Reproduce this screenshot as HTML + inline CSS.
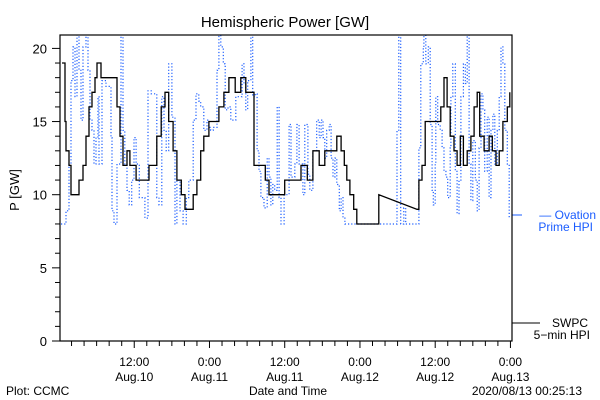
<!DOCTYPE html>
<html><head><meta charset="utf-8"><style>
html,body{margin:0;padding:0;background:#fff}
svg{display:block}
text{font-family:"Liberation Sans",sans-serif;fill:#000}
</style></head><body>
<svg id="chart" width="600" height="400">
<text x="285" y="27" font-size="15" text-anchor="middle">Hemispheric Power [GW]</text>
<text x="0" y="0" font-size="13" text-anchor="middle" transform="translate(19,190) rotate(-90)">P [GW]</text>
<text x="288" y="395" font-size="12" text-anchor="middle">Date and Time</text>
<text x="6" y="395" font-size="12">Plot: CCMC</text>
<text x="582" y="395" font-size="12" text-anchor="end">2020/08/13 00:25:13</text>
<g id="legend">
<line x1="512" y1="215" x2="522" y2="215" stroke="#1a5cff" stroke-width="1"/>
<text x="596" y="219" font-size="12" text-anchor="end" style="fill:#1a5cff">— Ovation</text>
<text x="593" y="231" font-size="12" text-anchor="end" style="fill:#1a5cff">Prime HPI</text>
<line x1="512" y1="323" x2="540" y2="323" stroke="#000" stroke-width="1"/>
<text x="588" y="327" font-size="12" text-anchor="end">SWPC</text>
<text x="590" y="339" font-size="12" text-anchor="end">5−min HPI</text>
</g>
</svg>
<script>
const blackTimes=[0.48,0.96,1.12,1.6,1.91,2.71,3.19,3.83,4.31,4.78,5.26,5.74,6.06,6.7,7.97,8.77,9.25,9.73,10.2,10.85,11.3,12.3,13.6,14.35,15.15,15.6,16.3,16.9,17.5,18.2,18.8,19.5,20.1,20.7,21.4,22.0,22.6,23.1,23.9,24.7,25.5,26.3,27.1,28.1,29.0,29.8,30.6,31.1,32.2,32.9,33.5,34.4,35.4,36.0,36.7,37.6,38.6,39.6,40.5,41.5,42.4,43.4,44.3,45.0,45.5,45.9,46.4,47.0,47.5,49.4,50.9,51.0,57.1,57.4,57.9,58.4,59.3,60.3,60.9,61.4,61.9,62.4,63.0,63.5,64.0,64.5,65.1,65.7,66.2,66.7,67.1,67.8,68.6,69.1,69.7,70.2,70.8,71.5,71.9];
const blackValues=[19,15,13,12,10,10,11,12,14,16,17,18,19,18,18,18,16,14,12,13,12,11,11,12,12,14,16,17,15,13,11,10,9,9,10,11,13,14,15,15,16,17,18,17,18,17,17,12,12,11,10,10,10,11,11,11,12,11,13,12,13,13,14,13,12,11,10,9,8,8,8,10,9,11,12,15,15,15,16,18,16,14,13,12,14,12,13,14,16,17,14,13,14,13,12,13,15,16,17];
const blueTimes=[0.32,0.8,1.12,1.6,1.91,2.23,2.55,2.87,3.19,3.51,3.83,4.31,4.63,4.94,5.26,5.58,5.9,6.22,6.38,6.86,7.5,7.97,8.29,8.45,8.77,9.25,9.89,10.2,10.5,10.85,11.2,11.6,11.96,12.3,12.8,13.2,13.7,14.2,14.7,15.15,15.6,15.95,16.4,16.75,17.1,17.5,18.0,18.5,18.8,19.3,19.8,20.3,20.7,21.4,21.85,22.3,22.6,23.1,23.6,23.9,24.2,24.6,25.2,25.5,25.8,26.2,26.5,26.95,27.4,27.9,28.2,28.7,29.2,29.5,29.8,30.1,30.6,30.9,31.3,31.6,31.9,32.2,32.7,33.2,33.5,33.8,34.1,34.4,34.8,35.1,35.4,35.9,36.7,37.0,37.6,37.95,38.3,38.9,39.2,39.7,40.0,40.5,41.1,41.5,41.8,42.1,42.4,42.7,43.1,43.4,43.7,44.0,44.3,44.7,45.0,45.3,45.6,49.8,50.4,53.9,54.2,54.5,55.0,55.3,57.1,57.4,57.7,58.1,58.2,58.5,58.9,59.2,59.5,59.7,60.0,60.1,60.4,60.8,61.1,61.4,61.7,62.0,62.4,62.5,62.8,63.2,63.5,63.8,64.1,64.5,64.8,65.1,65.4,65.7,66.0,66.4,66.7,67.0,67.3,67.6,67.9,68.3,68.6,68.9,69.2,69.5,69.9,70.2,70.5,70.8,71.1,71.5,71.8];
const blueValues=[8.0,8.0,8.9,12.1,17.8,20.1,16.7,21,18.5,15.1,20.1,21,18.5,15.1,14.4,12.1,13.9,16.7,12.1,17.8,17.4,17.4,13.9,8.9,8.0,12.1,21,14.4,12.1,10.3,9.3,11.0,13.9,12.1,9.8,9.8,8.4,17.1,16.9,16.9,9.8,9.3,16.7,14.4,13.0,18.95,15.3,8.0,11.0,8.9,8.0,9.8,11.0,15.1,16.9,16.4,16.0,14.4,15.1,14.6,14.4,14.6,18.5,21,20.1,18.95,15.8,16.0,15.1,15.1,16.7,16.7,18.95,17.6,15.8,17.8,21,16.7,16.9,13.0,11.6,9.8,9.1,12.5,11.2,9.3,10.7,10.3,16.0,9.8,8.0,10.0,14.8,11.2,12.1,14.8,12.1,10.0,14.8,11.4,10.3,13.0,15.1,13.9,15.1,13.9,12.5,14.4,14.8,12.5,11.2,12.5,10.7,8.9,9.8,8.4,8.0,8.0,8.0,14.4,21,8.0,9.1,8.0,8.0,13.2,18.95,20.1,21,18.95,20.1,14.8,10.3,9.3,12.1,16.7,14.8,14.4,13.2,11.6,11.2,9.8,13.2,16.7,18.95,11.6,8.7,11.0,16.7,18.95,17.6,21,12.1,9.6,13.7,11.0,8.9,13.2,16.9,15.8,11.6,15.3,9.8,14.4,15.5,12.1,14.4,16.7,20.1,18.95,14.4,12.1,8.4];
const yTickValues=[0,5,10,15,20];
const xTickHours=[12,24,36,48,60,72];
const xTickTimes=["12:00","0:00","12:00","0:00","12:00","0:00"];
const xTickDates=["Aug.10","Aug.11","Aug.11","Aug.12","Aug.12","Aug.13"];

const NS="http://www.w3.org/2000/svg";
const svg=document.getElementById('chart');
const L=60,R=512,T=35,B=341;
const xs=h=>59+6.27*h;
const ys=v=>341-14.63*v;
function mk(tag,attrs,parent){const e=document.createElementNS(NS,tag);for(const k in attrs)e.setAttribute(k,attrs[k]);(parent||svg).appendChild(e);return e;}

const defs=mk('defs',{});
const cp=mk('clipPath',{id:'plotclip'},defs);
mk('rect',{x:L,y:T,width:R-L,height:B-T},cp);

// blue series (step, dotted)
let d='';
for(let i=0;i<blueTimes.length;i++){
  const x=xs(blueTimes[i]).toFixed(1),y=ys(blueValues[i]).toFixed(1);
  if(i===0)d+='M'+x+','+y;else d+='H'+x+'V'+y;
}
const bp=mk('path',{d:d,fill:'none',stroke:'#1a5cff','stroke-width':1.2,'stroke-dasharray':'1.2 2','clip-path':'url(#plotclip)'});



// black series (step, straight across data gaps)
d='';
for(let i=0;i<blackTimes.length;i++){
  const x=xs(blackTimes[i]).toFixed(1),y=ys(blackValues[i]).toFixed(1);
  if(i===0)d+='M'+x+','+y;
  else if(blackTimes[i]-blackTimes[i-1]>3)d+='L'+x+','+y;
  else d+='H'+x+'V'+y;
}
const kp=mk('path',{d:d,fill:'none',stroke:'#000','stroke-width':1.3,'clip-path':'url(#plotclip)'});



// frame
const fr=mk('rect',{x:L,y:T,width:R-L,height:B-T,fill:'none',stroke:'#000','stroke-width':1.2});



// y ticks
for(let v=0;v<=20;v++){
  const y=ys(v);
  const major=yTickValues.indexOf(v)>=0;
  mk('line',{x1:L-(major?8:5),x2:L,y1:y,y2:y,stroke:'#000','stroke-width':1});
}
yTickValues.forEach(v=>{
  const t=mk('text',{x:47,y:ys(v)+5,'font-size':13,'text-anchor':'end'});
  t.textContent=v;
  
  
});
// x ticks
for(let h=2;h<=72;h+=2){
  const x=xs(h);if(x>R)continue;
  const major=xTickHours.indexOf(h)>=0;
  mk('line',{x1:x,x2:x,y1:B,y2:B+(major?7:5),stroke:'#000','stroke-width':1});
}
xTickHours.forEach((h,i)=>{
  const t=mk('text',{x:xs(h),y:366,'font-size':12,'text-anchor':'middle'});
  t.textContent=xTickTimes[i];
  
  
  const t2=mk('text',{x:xs(h),y:381,'font-size':12,'text-anchor':'middle'});
  t2.textContent=xTickDates[i];
  
  
});
</script>
</body></html>
